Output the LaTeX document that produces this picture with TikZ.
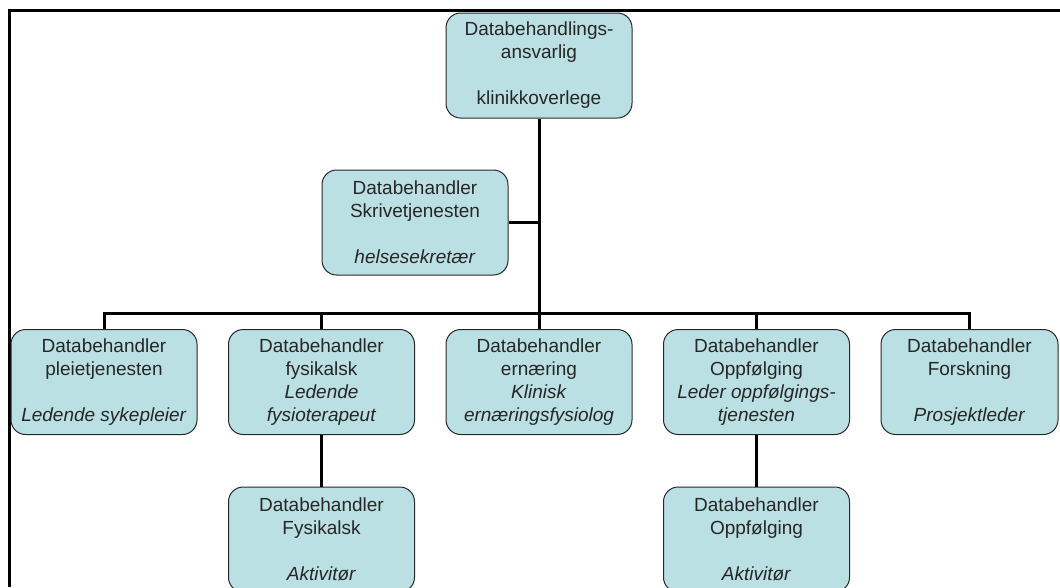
\documentclass[tikz,border=0pt]{standalone}
\usepackage{fontspec}
\setmainfont{Liberation Sans}
\usetikzlibrary{arrows,shapes}
\definecolor{unitfill}{RGB}{187,224,227}
\definecolor{unitline}{RGB}{40,40,40}
\tikzstyle{unit}=[draw=unitline,fill=unitfill,rounded corners=11pt,line width=0.75pt,minimum width=139.5pt,minimum height=78.75pt,inner sep=0pt,align=center,text=black!85,font=\fontsize{14.25pt}{17.25pt}\selectfont]
\tikzstyle{edge} = [draw,line width=2.25pt,-]

\begin{document}
\begin{tikzpicture}[x=0.75pt,y=-0.75pt]
    \useasboundingbox (0,0) rectangle (1060,587);
    % Frame along the top and the left
    \draw[line width=2.25pt] (1060,10) -- (9.5,10) -- (9.5,587);
    % First we draw the units
    \node[unit] (top) at (539,65.5) {Databehandlings-\\ansvarlig\\~\\klinikkoverlege};
    \node[unit] (skriv) at (415,222.5) {Databehandler\\Skrivetjenesten\\~\\\textit{helsesekretær}};
    \node[unit] (pleie) at (104,382) {Databehandler\\pleietjenesten\\~\\\textit{Ledende sykepleier}};
    \node[unit] (fysik) at (321.5,382) {Databehandler\\fysikalsk\\\textit{Ledende}\\\textit{fysioterapeut}};
    \node[unit] (ern) at (539,382) {Databehandler\\ernæring\\\textit{Klinisk}\\\textit{ernæringsfysiolog}};
    \node[unit] (oppf) at (756.5,382) {Databehandler\\Oppfølging\\\textit{Leder oppfølgings-}\\\textit{tjenesten}};
    \node[unit,minimum width=132.75pt] (forsk) at (969.5,382) {Databehandler\\Forskning\\~\\\textit{Prosjektleder}};
    \node[unit] (fysikakt) at (321.5,539.5) {Databehandler\\Fysikalsk\\~\\\textit{Aktivitør}};
    \node[unit] (oppfakt) at (756.5,539.5) {Databehandler\\Oppfølging\\~\\\textit{Aktivitør}};
    \coordinate (hub) at (539,313);
    % Connect units with lines
    \path[edge] (top) -- (hub);
    \path[edge] (skriv) -- (skriv -| hub);
    \path[edge] (pleie) |- (hub) -| (forsk);
    \foreach \dest in {fysik, ern, oppf}
        \path[edge] (hub -| \dest) -- (\dest);
    \foreach \source/\dest in {fysik/fysikakt, oppf/oppfakt}
        \path[edge] (\source) -- (\dest);
\end{tikzpicture}
\end{document}
